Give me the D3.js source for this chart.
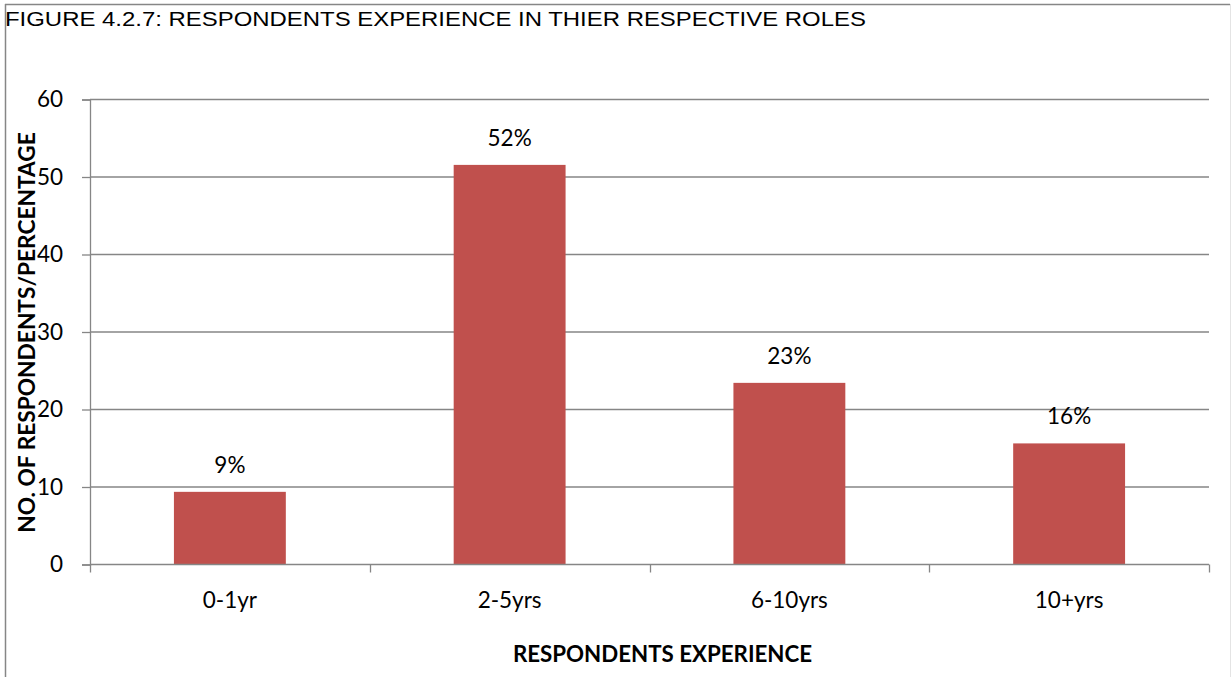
<!DOCTYPE html>
<html>
<head>
<meta charset="utf-8">
<script src="https://cdn.jsdelivr.net/npm/d3@7"></script>
<style>
  html, body { margin: 0; padding: 0; background: #ffffff; }
  svg { display: block; }
</style>
</head>
<body>
<svg id="chart" width="1231" height="677"></svg>
<script>
// Experience bands and share of respondents (%) in each
const categories = ["0-1yr", "2-5yrs", "6-10yrs", "10+yrs"];
const values = [9.375, 51.5625, 23.4375, 15.625];
const yTicks = [0, 10, 20, 30, 40, 50, 60];

const titleText = "FIGURE 4.2.7: RESPONDENTS EXPERIENCE IN THIER RESPECTIVE ROLES";
const yTitle = "NO. OF RESPONDENTS/PERCENTAGE";
const xTitle = "RESPONDENTS EXPERIENCE";

const svg = d3.select("#chart");
const W = 1231, H = 677;
const plot = { left: 90, right: 1209, top: 99.5, bottom: 564.5 };
const gridColor = "#868686";
const barColor = "#C0504D";
const bodyFont = "Lato, 'Open Sans', sans-serif";

// outer frame
svg.append("line").attr("x1", 5.5).attr("x2", 5.5).attr("y1", 4).attr("y2", H)
  .attr("stroke", gridColor).attr("stroke-width", 1.5);
svg.append("line").attr("x1", 5).attr("x2", 1230).attr("y1", 4.5).attr("y2", 4.5)
  .attr("stroke", gridColor).attr("stroke-width", 1.5);
svg.append("line").attr("x1", 1230.5).attr("x2", 1230.5).attr("y1", 4).attr("y2", H)
  .attr("stroke", "#e4e4e4").attr("stroke-width", 1);

// figure caption, set slightly wide
svg.append("text")
  .attr("x", 0).attr("y", 0)
  .attr("transform", "translate(5,26) scale(1.14,1)")
  .attr("font-family", "'Liberation Sans', Arial, sans-serif")
  .attr("font-size", 21)
  .attr("fill", "#000")
  .text(titleText);

const x = d3.scaleBand()
  .domain(categories)
  .range([plot.left, plot.right])
  .paddingInner(0.6)
  .paddingOuter(0.3);

const y = d3.scaleLinear()
  .domain([0, 60])
  .range([plot.bottom, plot.top]);

// horizontal gridlines
svg.append("g").selectAll("line")
  .data(yTicks.filter(d => d > 0))
  .join("line")
  .attr("x1", plot.left).attr("x2", plot.right)
  .attr("y1", d => y(d)).attr("y2", d => y(d))
  .attr("stroke", gridColor).attr("stroke-width", 1.3);

// y axis
const yAxis = svg.append("g")
  .attr("transform", `translate(${plot.left},0)`)
  .call(d3.axisLeft(y).tickValues(yTicks).tickSize(8).tickPadding(19).tickFormat(d3.format("d")));
yAxis.select(".domain").attr("stroke", gridColor).attr("stroke-width", 1.3);
yAxis.selectAll(".tick line").attr("stroke", gridColor).attr("stroke-width", 1.3);
yAxis.selectAll(".tick text")
  .attr("font-family", bodyFont).attr("font-size", 22.5).attr("fill", "#000");

// bars
svg.append("g").selectAll("rect")
  .data(categories.map((c, i) => ({ c, v: values[i] })))
  .join("rect")
  .attr("x", d => x(d.c))
  .attr("width", x.bandwidth())
  .attr("y", d => y(d.v))
  .attr("height", d => y(0) - y(d.v))
  .attr("fill", barColor);

// value labels
svg.append("g").selectAll("text")
  .data(categories.map((c, i) => ({ c, v: values[i] })))
  .join("text")
  .attr("x", d => x(d.c) + x.bandwidth() / 2)
  .attr("y", d => y(d.v) - 19)
  .attr("text-anchor", "middle")
  .attr("font-family", bodyFont).attr("font-size", 22.5).attr("fill", "#000")
  .text(d => Math.round(d.v) + "%");

// x axis with ticks at category boundaries
const step = x.step();
const boundaries = d3.range(categories.length + 1).map(i => plot.left + i * step);
const xAxis = svg.append("g");
xAxis.append("line")
  .attr("x1", plot.left).attr("x2", plot.right)
  .attr("y1", plot.bottom).attr("y2", plot.bottom)
  .attr("stroke", gridColor).attr("stroke-width", 1.3);
xAxis.selectAll("line.tick")
  .data(boundaries)
  .join("line")
  .attr("class", "tick")
  .attr("x1", d => Math.round(d) + 0.5).attr("x2", d => Math.round(d) + 0.5)
  .attr("y1", plot.bottom).attr("y2", plot.bottom + 8)
  .attr("stroke", gridColor).attr("stroke-width", 1.3);
xAxis.selectAll("text")
  .data(categories)
  .join("text")
  .attr("x", d => x(d) + x.bandwidth() / 2)
  .attr("y", 608)
  .attr("text-anchor", "middle")
  .attr("font-family", bodyFont).attr("font-size", 22.5).attr("fill", "#000")
  .text(d => d);

// axis titles
svg.append("text")
  .attr("transform", `translate(35,${(plot.top + plot.bottom) / 2 + 0.5}) rotate(-90)`)
  .attr("text-anchor", "middle")
  .attr("font-family", bodyFont).attr("font-weight", "bold").attr("font-size", 22.7)
  .attr("fill", "#000")
  .text(yTitle);

svg.append("text")
  .attr("x", (plot.left + plot.right) / 2 + 13)
  .attr("y", 662)
  .attr("text-anchor", "middle")
  .attr("font-family", bodyFont).attr("font-weight", "bold").attr("font-size", 22.3)
  .attr("fill", "#000")
  .text(xTitle);
</script>
</body>
</html>
